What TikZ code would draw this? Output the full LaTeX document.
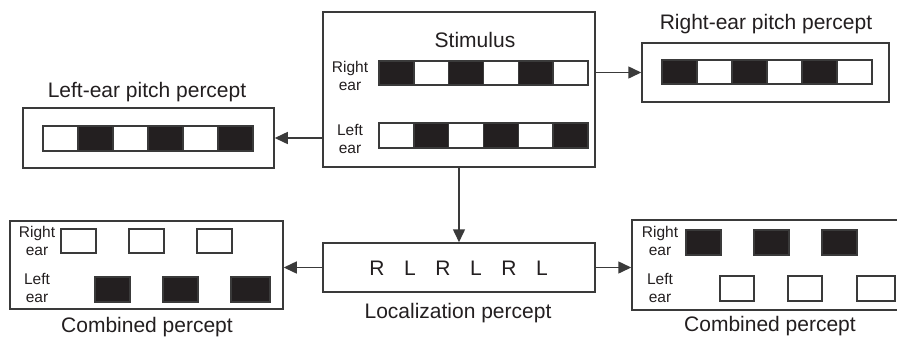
\documentclass[tikz,border=0pt]{standalone}
\usepackage{fontspec}
\setmainfont{Liberation Sans}
\usetikzlibrary{arrows.meta}
\definecolor{ink}{HTML}{231F20}
\definecolor{rule}{HTML}{3A3A3A}
\tikzset{
  panel/.style={draw=rule, line width=1.5pt, inner sep=0pt, fill=white},
  cellwhite/.style={draw=rule, line width=1.4pt, fill=white},
  cellblack/.style={draw=rule, line width=1.4pt, fill=ink},
  title/.style={font=\fontsize{21}{24}\selectfont, text=ink, inner sep=0pt},
  earlabel/.style={font=\fontsize{15.5}{18}\selectfont, text=ink, align=center, inner sep=0pt},
  flow/.style={draw=rule, line width=1.5pt, -{Triangle[length=13pt,width=12pt]}},
}
% one strip of six alternating cells: x0, y0, cell width, height, first black (1) or white (0)
\newcommand{\stripcells}[5]{%
  \foreach \k in {0,...,5}{
    \pgfmathtruncatemacro{\isblack}{mod(\k+#5,2)==1 ? 1 : 0}
    \ifnum\isblack=1
      \draw[cellblack] ({#1+\k*#3},#2) rectangle ++(#3,#4);
    \else
      \draw[cellwhite] ({#1+\k*#3},#2) rectangle ++(#3,#4);
    \fi
  }
}
\begin{document}
\begin{tikzpicture}[x=1pt,y=-1pt]
\useasboundingbox (0,0) rectangle (897,338);
\clip (0,0) rectangle (897,338);
\fill[white] (0,0) rectangle (897,338);

% --- stimulus panel ---
\node[panel, minimum width=272pt, minimum height=155pt] (stim) at (459,89.5) {};
\node[title] (stimtitle) at (475,40) {Stimulus};
\node[earlabel] (stimR) at (350,76) {Right\\ear};
\node[earlabel] (stimL) at (350,139) {Left\\ear};
\stripcells{379}{61}{34.83}{24}{1}
\stripcells{379}{123}{34.83}{25}{0}

% --- right-ear pitch percept ---
\node[panel, minimum width=247pt, minimum height=59pt] (rep) at (765.5,72.5) {};
\node[title] (reptitle) at (766,24) {Right-ear pitch percept};
\stripcells{662}{60}{35}{24}{1}

% --- left-ear pitch percept ---
\node[panel, minimum width=251pt, minimum height=60pt] (lep) at (148.5,138) {};
\node[title] (leptitle) at (147,92) {Left-ear pitch percept};
\stripcells{43}{126}{35}{25}{0}

% --- localization percept ---
\node[panel, minimum width=272pt, minimum height=49pt] (loc) at (459,267.5) {};
\foreach \c [count=\i from 0] in {R,L,R,L,R,L}
  \node[title] (loc\i) at ({377+\i*33},268) {\c};
\node[title] (loctitle) at (458,313) {Localization percept};

% --- combined percept, left ---
\node[panel, minimum width=273pt, minimum height=88pt] (cl) at (146.5,265) {};
\node[earlabel] (clR) at (37,241) {Right\\ear};
\node[earlabel] (clL) at (37,288) {Left\\ear};
\foreach \x in {61,129,197}
  \draw[cellwhite] (\x,229) rectangle ++(35,24);
\draw[cellblack] (95,277) rectangle (130,302);
\draw[cellblack] (163,277) rectangle (198,302);
\draw[cellblack] (231,277) rectangle (270,302);
\node[title] (cltitle) at (147,327) {Combined percept};

% --- combined percept, right (runs past the page edge) ---
\node[panel, minimum width=290pt, minimum height=90pt] (cr) at (777,265) {};
\node[earlabel] (crR) at (660,241) {Right\\ear};
\node[earlabel] (crL) at (660,288) {Left\\ear};
\foreach \x in {686,754,822}
  \draw[cellblack] (\x,230) rectangle ++(35,25);
\draw[cellwhite] (720,276) rectangle (754,301);
\draw[cellwhite] (788,276) rectangle (822,301);
\draw[cellwhite] (857,276) rectangle (895,301);
\node[title] (crtitle) at (770,326) {Combined percept};

% --- connectors ---
\draw[flow] (stim.east |- rep.west) -- (rep.west);
\draw[flow] (stim.west |- lep.east) -- (lep.east);
\draw[flow] (stim.south) -- (loc.north);
\draw[flow] (loc.west) -- (cl.east |- loc.west);
\draw[flow] (loc.east) -- (cr.west |- loc.east);
\end{tikzpicture}
\end{document}
